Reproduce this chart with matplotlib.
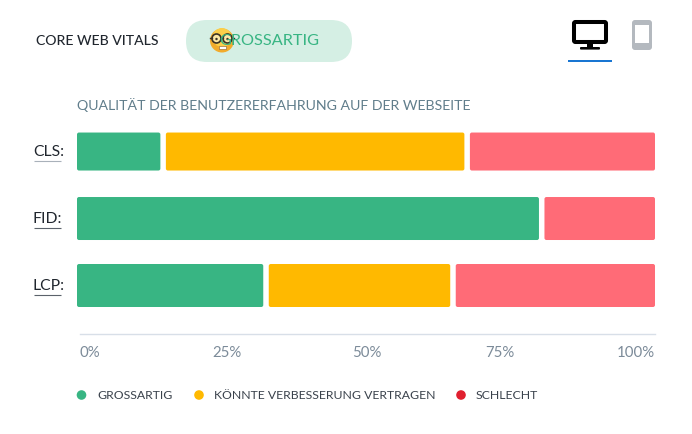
"""
core web vitals card: stacked share bars per metric, desktop view
"""
import matplotlib
matplotlib.use("Agg")
import matplotlib.pyplot as plt
from matplotlib.patches import FancyBboxPatch, Circle, Rectangle

plt.rcParams["font.family"] = ["Lato", "DejaVu Sans"]

W, H = 692, 434

METRICS = ["CLS:", "FID:", "LCP:"]
GOOD = [14.9, 80.4, 32.7]
OK = [52.6, 0.0, 32.35]
BAD = [32.5, 19.6, 34.95]

XTICKS = [0, 25, 50, 75, 100]
LEGEND = ["GROSSARTIG", "KÖNNTE VERBESSERUNG VERTRAGEN", "SCHLECHT"]

GREEN = "#38b583"
AMBER = "#ffb900"
RED = "#ff6b77"
RED_DOT = "#e0202f"
DARK = "#20262e"
SLATE = "#607d8b"
TICK = "#7c8b99"


def px(size):
    return size * 0.72


def add_axes_px(fig, x0, y0, x1, y1):
    return fig.add_axes([x0 / W, 1 - y1 / H, (x1 - x0) / W, (y1 - y0) / H])


fig = plt.figure(figsize=(W / 100, H / 100), dpi=100, facecolor="white")

# chart
ax = add_axes_px(fig, 77, 125, 655, 334)
ax.set_xlim(0, 100)
ax.set_ylim(2.724, -0.396)
ax.patch.set_alpha(0)

x_per_px = 100 / 578
y_per_px = 1 / 67
gap = 5.5 * x_per_px
heights = [38 * y_per_px, 43 * y_per_px, 43 * y_per_px]

for i, metric in enumerate(METRICS):
    left = 0
    segs = [(GOOD[i], GREEN), (OK[i], AMBER), (BAD[i], RED)]
    segs = [s for s in segs if s[0] > 0]
    for j, (val, col) in enumerate(segs):
        x0 = left + (gap / 2 if j > 0 else 0)
        x1 = left + val - (gap / 2 if j < len(segs) - 1 else 0)
        ax.add_patch(FancyBboxPatch(
            (x0, i - heights[i] / 2), x1 - x0, heights[i],
            boxstyle=f"round,pad=0,rounding_size={2 * x_per_px}",
            mutation_aspect=y_per_px / x_per_px,
            facecolor=col, edgecolor="none",
        ))
        left += val

for s in ["top", "left", "right"]:
    ax.spines[s].set_visible(False)
ax.spines["bottom"].set_color("#d8dfe8")
ax.spines["bottom"].set_linewidth(1.0)
ax.spines["bottom"].set_bounds(0.5, 100)

# labels sit spaced between, not on the true positions
tick_pos = [0.5, 25.95, 50.1, 73.2, 100]
ax.set_xticks(tick_pos)
ax.set_xticklabels([f"{t}%" for t in XTICKS], fontsize=px(15), color=TICK)
ax.tick_params(axis="x", length=0, pad=8.5)
ax.get_xticklabels()[0].set_ha("left")
ax.get_xticklabels()[-1].set_ha("right")
ax.set_yticks([])

# everything around the chart, in pixel coordinates
ui = fig.add_axes([0, 0, 1, 1], zorder=3)
ui.set_xlim(0, W)
ui.set_ylim(H, 0)
ui.axis("off")

ui.text(36, 41, "CORE WEB VITALS", fontsize=px(14), color=DARK, va="center", fontweight="medium")
ui.add_patch(FancyBboxPatch((186, 20), 166, 42, boxstyle="round,pad=0,rounding_size=21",
                            facecolor="#d5efe4", edgecolor="none"))
ui.text(219, 41, "GROSSARTIG", fontsize=px(16.2), color=GREEN, va="center")

# nerd face
ui.add_patch(Circle((222, 40.5), 12, facecolor="#f2ab2c", edgecolor="none"))
ui.add_patch(Circle((222, 37.5), 9.5, facecolor="#fbcf4a", edgecolor="none"))
for ex in (216.5, 227.5):
    ui.add_patch(Circle((ex, 38.5), 4.5, facecolor="#fde9a6", edgecolor="#3a3226", lw=1.2))
    ui.add_patch(Circle((ex, 39), 1.2, facecolor="#3a3226", edgecolor="none"))
ui.plot([210, 212], [37.5, 37.5], color="#3a3226", lw=1.0)
ui.plot([232, 234], [37.5, 37.5], color="#3a3226", lw=1.0)
ui.plot([221, 223], [37.5, 37.5], color="#3a3226", lw=1.0)
ui.add_patch(Rectangle((218.5, 46), 7, 2.6, facecolor="white", edgecolor="#8a5a20", lw=0.4))

# device icons
ui.add_patch(FancyBboxPatch((574, 22), 32, 20, boxstyle="round,pad=0,rounding_size=1.5",
                            facecolor="white", edgecolor="black", lw=2.9))
ui.add_patch(Rectangle((587, 44), 6, 4, facecolor="black", edgecolor="none"))
ui.add_patch(FancyBboxPatch((580, 47), 20, 2.6, boxstyle="round,pad=0,rounding_size=1",
                            facecolor="black", edgecolor="none"))
ui.add_patch(Rectangle((568, 60), 44, 2, facecolor="#1976d2", edgecolor="none"))
ui.add_patch(FancyBboxPatch((632, 20), 20, 30, boxstyle="round,pad=0,rounding_size=3",
                            facecolor="#b4b9bf", edgecolor="none"))
ui.add_patch(Rectangle((635, 24.5), 14, 18.5, facecolor="white", edgecolor="none"))

ui.text(77, 105, "QUALITÄT DER BENUTZERERFAHRUNG AUF DER WEBSEITE",
        fontsize=px(14.1), color=SLATE, va="center")

# metric names with their underlines
line_cols = ["#a9b1ba", "#5b626b", "#5b626b"]
for i, metric in enumerate(METRICS):
    yc = ax.transData.transform((0, i))[1]
    yc = H - yc
    ui.text(33, yc, metric, fontsize=px(15.8), color=DARK, va="center")
    ui.plot([34, 60.5], [yc + 9.6, yc + 9.6], color=line_cols[i], lw=0.8, solid_capstyle="butt")

# legend
dots = [(81.5, GREEN), (199, AMBER), (461, RED_DOT)]
text_x = [97, 214, 476]
for (dx, col), tx, lab in zip(dots, text_x, LEGEND):
    ui.add_patch(Circle((dx, 395), 4.8, facecolor=col, edgecolor="none"))
    ui.text(tx, 395.5, lab, fontsize=px(12.3), color="#3a424c", va="center")

fig.savefig("out.png", dpi=100, facecolor="white")
